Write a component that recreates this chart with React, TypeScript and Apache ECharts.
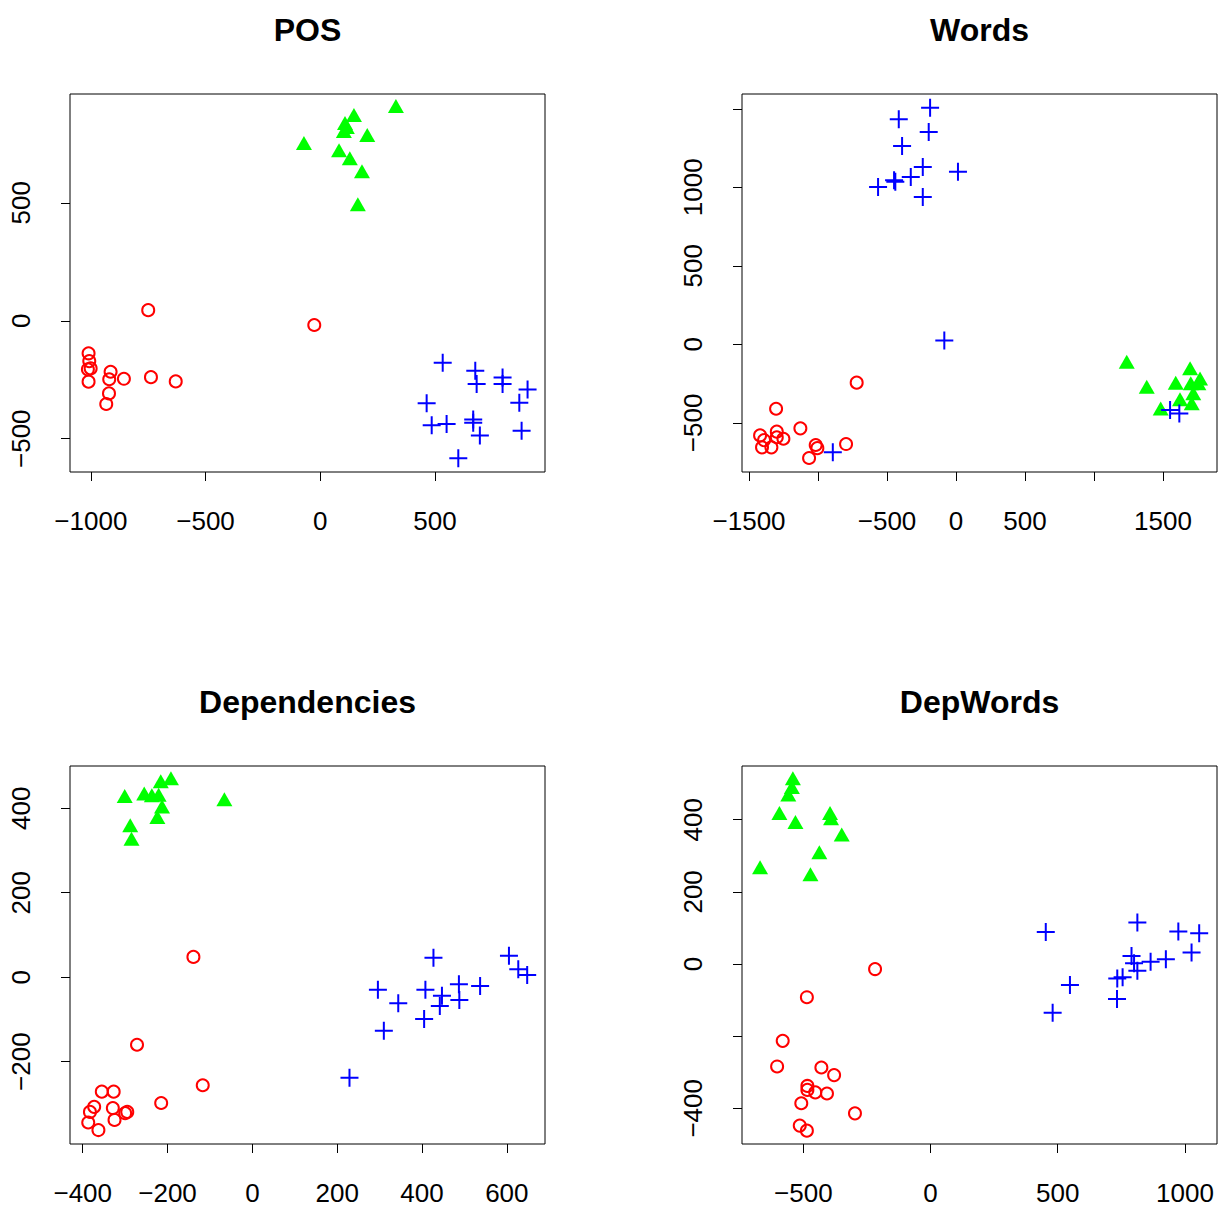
import React, { useEffect, useRef } from 'react';
import * as echarts from 'echarts';

const panelTitles = ['POS', 'Words', 'Dependencies', 'DepWords'];

// POS panel
const posRed = [[-750, 45], [-26, -18], [-1010, -138], [-1007, -171], [-1013, -206], [-1001, -202], [-1010, -258], [-914, -216], [-920, -248], [-921, -308], [-933, -353], [-856, -246], [-738, -239], [-630, -257]];
const posGreen = [[330, 910], [147, 872], [108, 838], [116, 821], [103, 804], [205, 787], [82, 723], [129, 689], [182, 634], [164, 494], [-71, 753]];
const posBlue = [[534, -178], [676, -212], [682, -268], [795, -240], [795, -268], [904, -291], [868, -347], [464, -350], [486, -443], [551, -438], [667, -418], [667, -432], [696, -486], [878, -466], [602, -583]];

// Words panel
const wordsRed = [[-720, -244], [-1304, -410], [-1128, -535], [-1420, -580], [-1299, -556], [-1391, -610], [-1299, -592], [-1251, -601], [-1406, -656], [-1338, -656], [-1017, -641], [-1005, -661], [-797, -635], [-1065, -724]];
const wordsGreen = [[1237, -111], [1382, -270], [1592, -244], [1696, -153], [1768, -217], [1701, -248], [1756, -248], [1719, -312], [1623, -350], [1708, -376], [1483, -408]];
const wordsBlue = [[-188, 1507], [-415, 1433], [-198, 1352], [-391, 1263], [-241, 1129], [14, 1099], [-328, 1066], [-449, 1045], [-440, 1036], [-565, 1002], [-241, 938], [-85, 25], [-893, -688], [1551, -418], [1618, -440]];

// Dependencies panel
const depRed = [[-139, 48], [-272, -160], [-117, -256], [-215, -298], [-355, -271], [-327, -271], [-373, -307], [-383, -319], [-329, -310], [-300, -322], [-295, -319], [-325, -338], [-387, -344], [-363, -362]];
const depGreen = [[-301, 429], [-255, 435], [-237, 431], [-221, 432], [-216, 464], [-192, 471], [-213, 404], [-224, 379], [-288, 360], [-285, 328], [-66, 421]];
const depBlue = [[427, 46], [605, 51], [627, 19], [648, 5], [296, -30], [408, -30], [487, -17], [537, -21], [447, -44], [488, -54], [344, -62], [442, -68], [405, -99], [310, -127], [229, -238]];

// DepWords panel
const dwRed = [[-218, -14], [-486, -92], [-581, -213], [-603, -284], [-429, -287], [-379, -308], [-484, -338], [-484, -349], [-453, -356], [-407, -359], [-508, -386], [-297, -414], [-514, -448], [-486, -462]];
const dwGreen = [[-541, 515], [-545, 491], [-559, 470], [-594, 419], [-531, 394], [-395, 419], [-391, 404], [-349, 359], [-437, 310], [-670, 268], [-472, 249]];
const dwBlue = [[453, 89], [813, 115], [974, 90], [1056, 85], [1026, 32], [790, 22], [925, 13], [865, 6], [800, 2], [813, -19], [755, -37], [734, -40], [548, -58], [733, -97], [480, -135]];

const redSets = [posRed, wordsRed, depRed, dwRed];
const greenSets = [posGreen, wordsGreen, depGreen, dwGreen];
const blueSets = [posBlue, wordsBlue, depBlue, dwBlue];

const xTicks = [[-1000, -500, 0, 500], [-1500, -1000, -500, 0, 500, 1000, 1500], [-400, -200, 0, 200, 400, 600], [-500, 0, 500, 1000]];
const xLabels = [[-1000, -500, 0, 500], [-1500, -500, 0, 500, 1500], [-400, -200, 0, 200, 400, 600], [-500, 0, 500, 1000]];
const yTicks = [[-500, 0, 500], [-500, 0, 500, 1000, 1500], [-200, 0, 200, 400], [-400, -200, 0, 200, 400]];
const yLabels = [[-500, 0, 500], [-500, 0, 500, 1000], [-200, 0, 200, 400], [-400, 0, 200, 400]];
const xRange = [[-1091, 980], [-1551, 1891], [-430, 690], [-741, 1126]];
const yRange = [[-641, 961], [-813, 1594], [-395, 500], [-499, 549]];

const FONT = 'Liberation Sans, Arial, Helvetica, sans-serif';
const gridPos = [
  { left: 70, top: 94 },
  { left: 742, top: 94 },
  { left: 70, top: 766 },
  { left: 742, top: 766 },
];
const GW = 475;
const GH = 378;

const fmt = (v: number) => String(v).replace('-', '\u2212');

export default function App() {
  const ref = useRef<HTMLDivElement>(null);
  useEffect(() => {
    if (!ref.current) return;
    const chart = echarts.init(ref.current, undefined, { renderer: 'svg' });
    const grids = gridPos.map((g) => ({
      left: g.left, top: g.top, width: GW, height: GH,
      show: true, borderColor: '#000', borderWidth: 1, backgroundColor: 'transparent',
    }));
    const xAxes = gridPos.map((_, i) => ({
      type: 'value', gridIndex: i, position: 'bottom', min: xRange[i][0], max: xRange[i][1],
      axisLine: { show: false, onZero: false },
      splitLine: { show: false },
      axisTick: { show: true, inside: false, length: 9, customValues: xTicks[i], lineStyle: { color: '#000', width: 1 } },
      axisLabel: { show: true, customValues: xLabels[i], formatter: fmt, margin: 36, color: '#000', fontSize: 26, fontFamily: FONT },
    }));
    const yAxes = gridPos.map((_, i) => ({
      type: 'value', gridIndex: i, position: 'left', min: yRange[i][0], max: yRange[i][1],
      axisLine: { show: false, onZero: false },
      splitLine: { show: false },
      axisTick: { show: true, inside: false, length: 9, customValues: yTicks[i], lineStyle: { color: '#000', width: 1 } },
      axisLabel: { show: true, rotate: 90, customValues: yLabels[i], formatter: fmt, margin: 36, color: '#000', fontSize: 26, fontFamily: FONT },
    }));
    const series: any[] = [];
    gridPos.forEach((_, i) => {
      series.push({
        type: 'scatter', xAxisIndex: i, yAxisIndex: i, data: redSets[i],
        symbol: 'circle', symbolSize: 12,
        itemStyle: { color: 'rgba(0,0,0,0)', borderColor: '#ff0000', borderWidth: 2, opacity: 1 },
      });
      series.push({
        type: 'scatter', xAxisIndex: i, yAxisIndex: i, data: greenSets[i],
        symbol: 'triangle', symbolSize: [16, 14],
        itemStyle: { color: '#00ff00', opacity: 1 },
      });
      series.push({
        type: 'scatter', xAxisIndex: i, yAxisIndex: i, data: blueSets[i],
        symbol: 'path://M8,0h2v8h8v2h-8v8h-2v-8h-8v-2h8z', symbolSize: 18,
        itemStyle: { color: '#0000ff', opacity: 1 },
      });
    });
    const titles = gridPos.map((g, i) => ({
      type: 'text', x: g.left + GW / 2, y: g.top - 64,
      style: { text: panelTitles[i], align: 'center', verticalAlign: 'middle', fill: '#000', font: `bold 32px ${FONT}` },
    }));
    chart.setOption({
      animation: false,
      backgroundColor: '#fff',
      grid: grids,
      xAxis: xAxes,
      yAxis: yAxes,
      series,
      graphic: titles,
    });
    return () => chart.dispose();
  }, []);
  return <div ref={ref} style={{ position: 'fixed', left: 0, top: 0, width: 1225, height: 1209 }} />;
}
